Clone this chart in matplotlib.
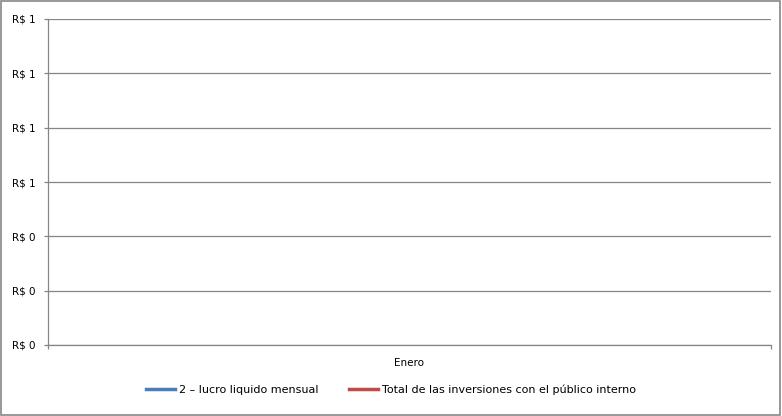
import numpy as np
import matplotlib
matplotlib.use("Agg")
from matplotlib import pyplot as plt
from matplotlib.ticker import FixedLocator, FuncFormatter

# chart data (no values were entered in the source sheet)
categories = ["Enero"]
lucro = [np.nan]
inversiones = [np.nan]
series_names = ["2 \u2013 lucro liquido mensual",
                "Total de las inversiones con el público interno"]
y_ticks = [0, 0.2, 0.4, 0.6, 0.8, 1.0, 1.2]

grey = "#868686"

fig = plt.figure(figsize=(7.82, 4.16), dpi=100)
fig.patches.append(plt.Rectangle((0.001, 0.002), 0.997, 0.995, transform=fig.transFigure,
                                 fill=False, edgecolor=grey, linewidth=1.2))
ax = fig.add_axes([48 / 782, 1 - 345 / 416, (771 - 48) / 782, (345 - 19) / 416])

x = np.arange(len(categories))
ax.plot(x, lucro, color="#4A7EBB", lw=2.5, label=series_names[0])
ax.plot(x, inversiones, color="#BE4B48", lw=2.5, label=series_names[1])

ax.set_xlim(-0.5, len(categories) - 0.5)
ax.set_ylim(y_ticks[0], y_ticks[-1])
ax.yaxis.set_major_locator(FixedLocator(y_ticks))
ax.yaxis.set_major_formatter(FuncFormatter(lambda v, p: "R$ %d" % int(np.floor(v + 0.5 + 1e-9))))
ax.grid(axis="y", color=grey, lw=0.9)
ax.set_axisbelow(True)

ax.xaxis.set_major_locator(FixedLocator(np.arange(len(categories) + 1) - 0.5))
ax.xaxis.set_major_formatter(FuncFormatter(lambda v, p: ""))
ax.xaxis.set_minor_locator(FixedLocator(x))
ax.set_xticklabels(categories, minor=True)
ax.tick_params(axis="x", which="minor", length=0, pad=9)
ax.tick_params(which="major", length=3, color=grey, width=0.9, direction="out")
ax.tick_params(which="both", labelsize=7.5, labelcolor="black")
ax.tick_params(axis="y", pad=6)

for s in ["top", "right"]:
    ax.spines[s].set_visible(False)
for s in ["left", "bottom"]:
    ax.spines[s].set_color(grey)
    ax.spines[s].set_linewidth(0.9)

fig.legend(loc="center", bbox_to_anchor=(0.5, 1 - 390 / 416), ncol=2, frameon=False,
           fontsize=8, handlelength=2.6, handletextpad=0.36, columnspacing=2.7)

fig.savefig("out.png", dpi=100)
